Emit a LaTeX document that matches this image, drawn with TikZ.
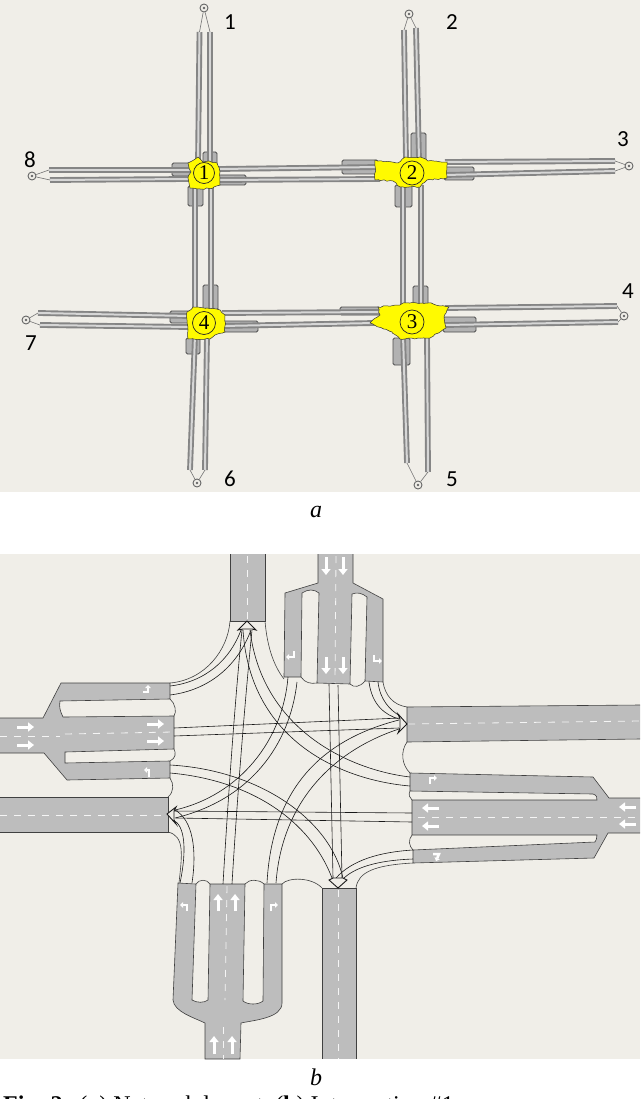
\documentclass[tikz,border=0pt]{standalone}
\usepackage{fontspec}
\setmainfont{Liberation Serif}
\newfontfamily\numfont{Carlito}
\usetikzlibrary{arrows.meta,decorations.pathmorphing}
\definecolor{paper}{HTML}{F0EEE8}
\definecolor{asphalt}{HTML}{BDBDBD}
\definecolor{tubeedge}{HTML}{858585}
\definecolor{tubecore}{HTML}{D6D6D6}
\definecolor{pocketgray}{HTML}{B2B2B2}
\definecolor{junctionyellow}{HTML}{FFFA00}
\tikzset{
  tube/.style={draw=tubeedge,double=tubecore,double distance=2pt,line width=1.9pt},
  pocket/.style={draw=black!70,fill=pocketgray,line width=.9pt,rounded corners=1.5pt},
  junction/.style={draw=black!80,fill=junctionyellow,line width=.5pt,decorate,decoration={random steps,segment length=3pt,amplitude=.7pt}},
  ring/.style={draw=black!85,circle,inner sep=0pt,line width=.7pt,font=\fontsize{21}{21}\selectfont},
  terminal/.style={draw=black!60,circle,minimum size=8pt,inner sep=0pt,line width=.9pt},
  numlabel/.style={inner sep=0pt,font=\numfont\fontsize{23}{23}\selectfont},
  lead/.style={draw=black!55,line width=.6pt},
  road/.style={draw=black!75,fill=asphalt,line width=.6pt},
  lane/.style={draw=black!90,line width=.6pt},
  curb/.style={draw=black!75,line width=.6pt},
  centerline/.style={draw=white!85!asphalt,dashed,dash pattern=on 7pt off 7pt,line width=.8pt},
  whitearrow/.style={draw=white,line width=3pt,-{Triangle[width=9pt,length=6pt]}},
  turnarrow/.style={draw=white,line width=2.5pt,-{Triangle[width=5.5pt,length=3pt]}},
  exithead/.style={draw=black!90,fill=paper,line width=.9pt},
}
\begin{document}
\begin{tikzpicture}[x=1pt,y=-1pt]
\useasboundingbox (0,0) rectangle (640,1099);
\fill[paper] (0,0) rectangle (640,492);
\fill[paper] (0,554) rectangle (640,1059);

% network, pockets at the approaches
\draw[pocket] (203,152) rectangle (217,168);
\draw[pocket] (188,186) rectangle (203,206);
\draw[pocket] (172,163) rectangle (192,176);
\draw[pocket] (216,175) rectangle (246,185);
\draw[pocket] (411,133) rectangle (426,162);
\draw[pocket] (395,185) rectangle (412,207);
\draw[pocket] (342,160) rectangle (378,174);
\draw[pocket] (444,167) rectangle (474,180);
\draw[pocket] (203,285) rectangle (218,310);
\draw[pocket] (186,338) rectangle (200,354);
\draw[pocket] (170,311) rectangle (190,323);
\draw[pocket] (222,321) rectangle (258,332);
\draw[pocket] (413,286) rectangle (428,308);
\draw[pocket] (393,338) rectangle (410,365);
\draw[pocket] (340,307) rectangle (380,315);
\draw[pocket] (443,317) rectangle (476,332);

% network, roads
\draw[tube] (199.5,32) -- (198,165);
\draw[tube] (210,32) -- (210,165);
\draw[tube] (195,185) -- (195,310);
\draw[tube] (211,185) -- (211,310);
\draw[tube] (404,30) -- (406,160);
\draw[tube] (416,28) -- (419,160);
\draw[tube] (403,185) -- (403,310);
\draw[tube] (421,185) -- (421,310);
\draw[tube] (195,335) -- (190,470);
\draw[tube] (207,335) -- (205,470);
\draw[tube] (403,335) -- (407,463);
\draw[tube] (427,335) -- (428,472);
\draw[tube] (49,170) -- (190,170);
\draw[tube] (50,180) -- (190,179);
\draw[tube] (218,169) -- (380,167);
\draw[tube] (218,180) -- (380,179);
\draw[tube] (445,162) -- (615,161);
\draw[tube] (445,175) -- (615,171);
\draw[tube] (38,313) -- (190,316);
\draw[tube] (40,325) -- (190,327);
\draw[tube] (222,313) -- (380,312);
\draw[tube] (222,326) -- (375,323);
\draw[tube] (445,308) -- (617,306);
\draw[tube] (445,325) -- (618,322);

% network, junctions
\draw[junction] (188,163) -- (192,161) -- (198,157) -- (203,162) -- (209,161) -- (217,163) -- (220,172) -- (220,185) -- (213,188) -- (200,189) -- (190,188) -- (188,178) -- (191,172) -- cycle;
\draw[junction] (375,160) -- (398,163) -- (405,157) -- (420,157) -- (428,161) -- (447,162) -- (447,178) -- (427,180) -- (420,187) -- (400,187) -- (393,181) -- (375,180) -- cycle;
\draw[junction] (378,307) -- (400,305) -- (403,303) -- (428,303) -- (449,307) -- (444,317) -- (446,328) -- (430,338) -- (400,339) -- (392,332) -- (370,323) -- (380,315) -- cycle;
\draw[junction] (187,312) -- (193,307) -- (207,308) -- (220,310) -- (225,315) -- (225,332) -- (215,335) -- (210,339) -- (188,339) -- (188,330) -- (187,323) -- cycle;
\node[ring,minimum size=21pt] (j1) at (204,173) {1};
\node[ring,minimum size=24pt] (j2) at (412,173) {2};
\node[ring,minimum size=24pt] (j3) at (412,322) {3};
\node[ring,minimum size=23pt] (j4) at (204,323) {4};

% network, terminals
\node[terminal] (t1) at (204,8) {};
\node[terminal] (t2) at (409,14) {};
\node[terminal] (t3) at (629,166) {};
\node[terminal] (t4) at (624,316) {};
\node[terminal] (t5) at (418,485) {};
\node[terminal] (t6) at (197,483) {};
\node[terminal] (t7) at (26,320) {};
\node[terminal] (t8) at (32,176) {};
\foreach \t in {t1,t2,t3,t4,t5,t6,t7,t8}
  \fill[black!60] (\t) circle (1.3);
\draw[lead] (t1) -- (199.5,32);
\draw[lead] (t1) -- (210,32);
\draw[lead] (t2) -- (404,30);
\draw[lead] (t2) -- (416,28);
\draw[lead] (t3) -- (615,161);
\draw[lead] (t3) -- (615,171);
\draw[lead] (t4) -- (617,306);
\draw[lead] (t4) -- (618,322);
\draw[lead] (t5) -- (407,463);
\draw[lead] (t5) -- (428,472);
\draw[lead] (t6) -- (190,470);
\draw[lead] (t6) -- (205,470);
\draw[lead] (t7) -- (38,313);
\draw[lead] (t7) -- (40,325);
\draw[lead] (t8) -- (49,170);
\draw[lead] (t8) -- (50,180);
\node[numlabel] (l1) at (230,22) {1};
\node[numlabel] (l2) at (452,22) {2};
\node[numlabel] (l3) at (623,139) {3};
\node[numlabel] (l4) at (628,291) {4};
\node[numlabel] (l5) at (452,479) {5};
\node[numlabel] (l6) at (230,479) {6};
\node[numlabel] (l7) at (31,343) {7};
\node[numlabel] (l8) at (30,160) {8};
\node[font=\fontsize{24}{24}\selectfont\itshape,inner sep=0pt] (capa) at (316,512) {a};

% intersection, exits
\draw[road] (230,554) -- (230,621) -- (265,621) -- (265,554);
\draw[road] (640,705) -- (407,707) -- (407,742) -- (640,739);
\draw[road] (322,1059) -- (322,888) -- (356,888) -- (356,1059);
\draw[road] (0,797) -- (168,797) -- (168,832) -- (0,832);

% intersection, approaches
\draw[road] (0,718) -- (43,718) -- (61,683) -- (170,683) -- (170,699) -- (60,701) .. controls (59,707) and (60,711) .. (63,717) -- (174,716) -- (174,749) -- (65,752) -- (65,763) -- (170,761) -- (170,778) -- (67,780) -- (44,753) -- (0,753);
\draw[road] (318,554) -- (318,583) -- (285,593) -- (284,677) -- (301,677) -- (302,593) .. controls (308,589) and (314,589) .. (319,593) -- (317,683) -- (350,684) -- (352,594) .. controls (357,592) and (362,593) .. (367,597) -- (365,681) -- (383,682) -- (383,599) -- (353,583) -- (353,554);
\draw[road] (640,798) -- (609,798) -- (593,777) -- (410,773) -- (410,791) -- (593,794) .. controls (597,795) and (597,798) .. (597,800) -- (412,800) -- (412,835) -- (597,835) .. controls (597,838) and (596,841) .. (595,842) -- (413,850) -- (413,863) -- (594,858) -- (608,833) -- (640,833);
\draw[road] (178,883) -- (173,1000) .. controls (174,1012) and (195,1018) .. (205,1023) -- (205,1059) -- (240,1059) -- (241,1023) .. controls (255,1020) and (282,1018) .. (282,1003) -- (282,884) -- (264,884) -- (263,1001) .. controls (258,1005) and (248,1005) .. (243,1001) -- (245,884) -- (210,884) -- (208,1000) .. controls (204,1003) and (197,1003) .. (192,1000) -- (196,884) -- cycle;

% intersection, curbs
\draw[curb] (230,621) .. controls (228,650) and (205,680) .. (170,683);
\draw[curb] (265,621) .. controls (267,645) and (273,665) .. (284,679);
\draw[curb] (383,682) .. controls (385,695) and (393,705) .. (407,707);
\draw[curb] (407,742) .. controls (400,752) and (402,765) .. (410,773);
\draw[curb] (356,888) .. controls (358,872) and (375,865) .. (413,863);
\draw[curb] (168,832) .. controls (185,836) and (182,855) .. (179,883);
\draw[curb] (170,778) .. controls (174,784) and (174,792) .. (168,797);
\draw[curb] (170,699) .. controls (175,703) and (177,712) .. (174,716);
\draw[curb] (174,749) .. controls (176,753) and (176,758) .. (170,761);
\draw[curb] (301,677) .. controls (305,683) and (311,684) .. (317,683);
\draw[curb] (350,684) .. controls (354,688) and (360,687) .. (365,681);
\draw[curb] (410,791) .. controls (408,795) and (410,798) .. (412,800);
\draw[curb] (412,835) .. controls (408,840) and (409,846) .. (413,850);
\draw[curb] (196,884) .. controls (199,879) and (207,879) .. (210,884);
\draw[curb] (245,884) .. controls (249,879) and (259,879) .. (264,884);
\draw[curb] (282,884) .. controls (288,877) and (312,877) .. (322,888);

% intersection, lanes to the north exit
\draw[lane] (170,686) .. controls (205,682) and (230,660) .. (241,630);
\draw[lane] (170,695) .. controls (210,690) and (238,665) .. (251,630);
\draw[lane] (223,884) .. controls (228,800) and (235,700) .. (242,630);
\draw[lane] (232,884) .. controls (237,800) and (245,700) .. (252,630);
\draw[lane] (410,777) .. controls (350,770) and (262,730) .. (250,630);
\draw[lane] (410,786) .. controls (340,780) and (250,740) .. (243,630);
% intersection, lanes to the east exit
\draw[lane] (174,728) -- (400,718);
\draw[lane] (174,736) -- (399,728);
\draw[lane] (369,682) .. controls (372,705) and (385,715) .. (399,719);
\draw[lane] (378,682) .. controls (380,700) and (390,710) .. (400,716);
\draw[lane] (267,883) .. controls (272,790) and (320,740) .. (399,720);
\draw[lane] (276,883) .. controls (282,800) and (335,750) .. (399,729);
% intersection, lanes to the south exit
\draw[lane] (329,684) -- (333,878);
\draw[lane] (338,685) -- (342,878);
\draw[lane] (170,765) .. controls (260,770) and (330,820) .. (343,878);
\draw[lane] (170,773) .. controls (250,780) and (310,820) .. (332,878);
\draw[lane] (413,850) .. controls (380,852) and (352,860) .. (336,878);
\draw[lane] (413,859) .. controls (385,860) and (358,865) .. (344,878);
% intersection, lanes to the west exit
\draw[lane] (412,813) -- (173,811);
\draw[lane] (412,822) -- (176,818);
\draw[lane] (288,677) .. controls (283,740) and (240,795) .. (175,810);
\draw[lane] (297,682) .. controls (290,745) and (250,800) .. (175,818);
\draw[lane] (180,883) .. controls (187,850) and (185,825) .. (173,820);
\draw[lane] (192,883) .. controls (197,850) and (193,820) .. (175,810);

% intersection, arrow heads
\draw[exithead] (247,621) -- (238,630) -- (243,629) -- (252,629) -- (256,630) -- cycle;
\draw[exithead] (407,724) -- (398,714) -- (400,719) -- (400,728) -- (398,733) -- cycle;
\draw[exithead] (338,888) -- (329,880) -- (333,878) -- (343,878) -- (347,880) -- cycle;
\draw[exithead] (167,814) -- (176,807) -- (174,811) -- (174,820) -- (176,824) -- cycle;

% intersection, center lines
\draw[centerline] (247,556) -- (247,621);
\draw[centerline] (408,724) -- (640,721);
\draw[centerline] (338,890) -- (338,1059);
\draw[centerline] (0,815) -- (167,815);
\draw[centerline] (0,736) -- (60,736);
\draw[centerline] (65,734) -- (173,732);
\draw[centerline] (336,556) -- (335,683);
\draw[centerline] (418,817) -- (640,817);
\draw[centerline] (227,886) -- (225,1000);
\draw[centerline] (223,1027) -- (223,1059);

% intersection, lane marks
\draw[whitearrow] (17,727) -- (34,727);
\draw[whitearrow] (17,745) -- (34,745);
\draw[whitearrow] (147,724) -- (164,724);
\draw[whitearrow] (147,741) -- (164,741);
\draw[whitearrow] (326,557) -- (326,575);
\draw[whitearrow] (343,557) -- (343,575);
\draw[whitearrow] (326,657) -- (326,674);
\draw[whitearrow] (343,657) -- (343,674);
\draw[whitearrow] (439,808) -- (422,808);
\draw[whitearrow] (439,826) -- (422,826);
\draw[whitearrow] (636,807) -- (619,807);
\draw[whitearrow] (636,824) -- (619,824);
\draw[whitearrow] (218,911) -- (218,894);
\draw[whitearrow] (235,911) -- (235,894);
\draw[whitearrow] (214,1054) -- (214,1036);
\draw[whitearrow] (232,1054) -- (232,1036);
\draw[turnarrow] (143,692) -- (148,692) -- (148,685);
\draw[turnarrow] (149,777) -- (149,770) -- (144,770);
\draw[turnarrow] (294,651) -- (294,657) -- (286,657);
\draw[turnarrow] (374,655) -- (374,661) -- (382,661);
\draw[turnarrow] (430,784) -- (430,778) -- (437,778);
\draw[turnarrow] (433,854) -- (439,854) -- (436,861);
\draw[turnarrow] (187,911) -- (187,905) -- (180,905);
\draw[turnarrow] (271,911) -- (271,905) -- (278,905);

\node[font=\fontsize{24}{24}\selectfont\itshape,inner sep=0pt] (capb) at (316,1077) {b};
\node[anchor=base west,inner sep=0pt,font=\fontsize{24}{24}\selectfont] (cap) at (3,1112) {\textbf{Fig. 2}\hspace{.7em}(\textbf{a}) Network layout\hspace{.5em}(\textbf{b}) Intersection \#1};
\end{tikzpicture}
\end{document}
